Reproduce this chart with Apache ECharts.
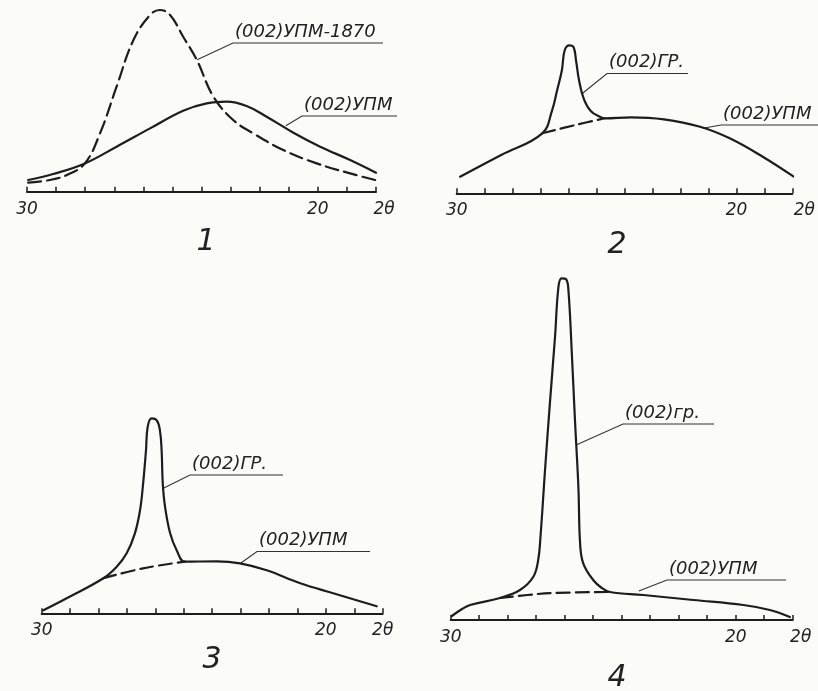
<!DOCTYPE html>
<html>
<head>
<meta charset="utf-8">
<script src="https://cdn.jsdelivr.net/npm/echarts@6/dist/echarts.min.js"></script>
<style>
  html, body { margin: 0; padding: 0; background: #fbfbf8; }
  #chart { width: 818px; height: 691px; }
</style>
</head>
<body>
<div id="chart"></div>
<script>
// ---- Diffraction profiles, points given as [2θ (deg), intensity (a.u.)] ----

// Pattern 1: pitch-derived carbon after 1870 °C (dashed) and as-prepared (solid)
const upm1870 = [[29.96, 9], [29.21, 11.7], [28.63, 16.7], [28.01, 28.3], [27.49, 58.3], [26.92, 105],
  [26.34, 151.7], [25.77, 176.7], [25.43, 181.7], [25.08, 176.7], [24.63, 155], [24.16, 131.7],
  [23.59, 95], [22.91, 71.7], [22.22, 58.3], [21.19, 41.7], [20.04, 28.3], [18.89, 18.3], [18.03, 11.7]];
const upm1 = [[29.96, 11.7], [29.10, 17.7], [28.01, 28.3], [26.92, 45], [25.77, 63.3], [24.63, 81],
  [23.82, 88.3], [23.13, 90], [22.45, 85.7], [21.76, 75], [20.84, 59], [19.92, 45], [18.89, 31.7], [18.0, 19]];

// Pattern 2: amorphous halo and graphite (002) reflection
const upm2 = [[29.88, 16.6], [28.41, 38.3], [26.94, 60], [25.76, 68.3], [24.71, 75], [23.77, 76],
  [22.59, 74], [21.30, 66.6], [20.24, 55], [19.06, 36.6], [17.95, 16.6]];
const gr2 = [[26.94, 60], [26.59, 83], [26.41, 103], [26.24, 123], [26.14, 143], [25.97, 148], [25.82, 146],
  [25.73, 132], [25.62, 112], [25.45, 94], [25.2, 82], [24.88, 76.5], [24.71, 75]];

// Pattern 3
const upm3 = [[29.94, 3], [29.12, 15], [27.83, 35], [26.43, 45], [24.96, 51.6], [23.84, 52], [23.02, 50],
  [22.08, 43], [20.90, 30], [19.74, 20], [18.21, 7]];
const gr3 = [[27.83, 35], [27.36, 46.6], [27.01, 60], [26.72, 80], [26.54, 103], [26.43, 130], [26.33, 163],
  [26.27, 186.6], [26.13, 195], [25.95, 193], [25.84, 183], [25.78, 163], [25.74, 130], [25.66, 106.6],
  [25.48, 80], [25.25, 63], [24.96, 51.6]];

// Pattern 4
const upm4 = [[29.96, 4], [29.6, 11], [29.32, 15], [28.27, 22], [27.3, 25], [26.40, 27], [24.41, 28],
  [23.24, 25], [21.49, 20], [19.73, 15], [18.80, 10], [18.10, 3]];
const gr4 = [[28.27, 22], [27.57, 30], [27.10, 43.3], [26.93, 60], [26.85, 83], [26.69, 150], [26.52, 216.7],
  [26.34, 283], [26.22, 333], [26.11, 341.7], [25.95, 340.7], [25.87, 330], [25.75, 266.7], [25.64, 200],
  [25.52, 133], [25.46, 76.7], [25.35, 56.7], [25.0, 40], [24.7, 32], [24.41, 28]];

// Axis scale (2θ runs right to left) and its labels
const thetaMin = 18, thetaMax = 30, thetaStep = 1;
const tickLabels = { 30: '30', 20: '20', 18: '2θ' };
const panelNumbers = ['1', '2', '3', '4'];
const labelUPM1870 = '(002)УПМ-1870';
const labelUPM = '(002)УПМ';
const labelGR = '(002)ГР.';
const labelGRlower = '(002)гр.';

// ---- Layout ----
const INK = '#1d1d1d';
const FONT = 'DejaVu Sans';
const grids = [
  { left: 27, top: 1.7, width: 349, height: 190, ymax: 190, shift: 16 },
  { left: 456.7, top: 3.3, width: 340, height: 190, ymax: 190, shift: 24 },
  { left: 41.7, top: 413.3, width: 341, height: 200, ymax: 200, shift: 0 },
  { left: 450.7, top: 275, width: 342, height: 345, ymax: 345, shift: 16 }
];

// Split the halo into the part hidden under the sharp peak (dashed) and the visible envelope (solid)
function envelope(halo, peak) {
  const a = peak[0][0], b = peak[peak.length - 1][0];
  return halo.filter(p => p[0] > a).concat(peak).concat(halo.filter(p => p[0] < b));
}
function hidden(halo, peak) {
  const a = peak[0][0], b = peak[peak.length - 1][0];
  return [peak[0]].concat(halo.filter(p => p[0] < a && p[0] > b)).concat([peak[peak.length - 1]]);
}

const xAxes = grids.map((g, i) => ({
  gridIndex: i, type: 'value', min: thetaMin, max: thetaMax, interval: thetaStep, inverse: true,
  axisLine: { lineStyle: { color: INK, width: 2 } },
  axisTick: { inside: true, length: 5, lineStyle: { color: INK, width: 1.5 } },
  splitLine: { show: false },
  axisLabel: {
    margin: 9, color: '#222', fontFamily: FONT, fontStyle: 'italic', fontSize: 17,
    showMinLabel: true, showMaxLabel: true,
    formatter: v => v === thetaMin ? '{t|' + tickLabels[v] + '}' : (tickLabels[v] || ''),
    rich: { t: { fontFamily: FONT, fontStyle: 'italic', fontSize: 17, color: '#222', padding: [0, 0, 0, g.shift] } }
  }
}));
const yAxes = grids.map((g, i) => ({ gridIndex: i, type: 'value', min: 0, max: g.ymax, show: false }));

function line(i, data, dashed) {
  return {
    type: 'line', xAxisIndex: i, yAxisIndex: i, data: data, showSymbol: false, symbol: 'none',
    smooth: 0.4, silent: true, clip: false,
    lineStyle: { color: INK, width: 2.2, type: dashed ? [13, 6] : 'solid', cap: 'round', join: 'round' }
  };
}

const series = [
  line(0, upm1870, true),
  line(0, upm1, false),
  line(1, hidden(upm2, gr2), true),
  line(1, envelope(upm2, gr2), false),
  line(2, hidden(upm3, gr3), true),
  line(2, envelope(upm3, gr3), false),
  line(3, hidden(upm4, gr4), true),
  line(3, envelope(upm4, gr4), false)
];

const chart = echarts.init(document.getElementById('chart'), null, { renderer: 'canvas' });
chart.setOption({
  backgroundColor: '#fbfbf8',
  animation: false,
  grid: grids.map(g => ({ left: g.left, top: g.top, width: g.width, height: g.height })),
  xAxis: xAxes,
  yAxis: yAxes,
  series: series
});

// ---- Callouts: leader from a point on the curve to an underlined caption ----
const callouts = [
  { grid: 0, at: [24.15, 132], elbow: [233, 43], end: 383, text: labelUPM1870 },
  { grid: 0, at: [21.1, 66], elbow: [302, 116], end: 397, text: labelUPM },
  { grid: 1, at: [25.5, 100], elbow: [607, 73.5], end: 688, text: labelGR },
  { grid: 1, at: [21.2, 65], elbow: [721, 125], end: 830, text: labelUPM },
  { grid: 2, at: [25.72, 125], elbow: [190, 475], end: 283, text: labelGR },
  { grid: 2, at: [23.0, 50], elbow: [257, 551.5], end: 370, text: labelUPM },
  { grid: 3, at: [25.6, 175], elbow: [623, 424], end: 714, text: labelGRlower },
  { grid: 3, at: [23.4, 29], elbow: [667, 580], end: 786, text: labelUPM }
];
const numberPos = [[206, 242], [617, 245], [212, 660], [617, 678]];

const graphic = [];
callouts.forEach(c => {
  const p = chart.convertToPixel({ gridIndex: c.grid }, c.at);
  graphic.push({
    type: 'polyline', silent: true,
    shape: { points: [p, c.elbow, [c.end, c.elbow[1]]] },
    style: { stroke: '#333', lineWidth: 1.1, fill: null }
  });
  graphic.push({
    type: 'text', silent: true, x: c.elbow[0] + 2, y: c.elbow[1] - 2,
    style: { text: c.text, fill: '#222', font: 'italic 18px "' + FONT + '"', textAlign: 'left', textVerticalAlign: 'bottom' }
  });
});
panelNumbers.forEach((n, i) => {
  graphic.push({
    type: 'text', silent: true, x: numberPos[i][0], y: numberPos[i][1],
    style: { text: n, fill: '#222', font: 'italic 30px "' + FONT + '"', textAlign: 'center', textVerticalAlign: 'middle' }
  });
});
chart.setOption({ graphic: graphic });
</script>
</body>
</html>
